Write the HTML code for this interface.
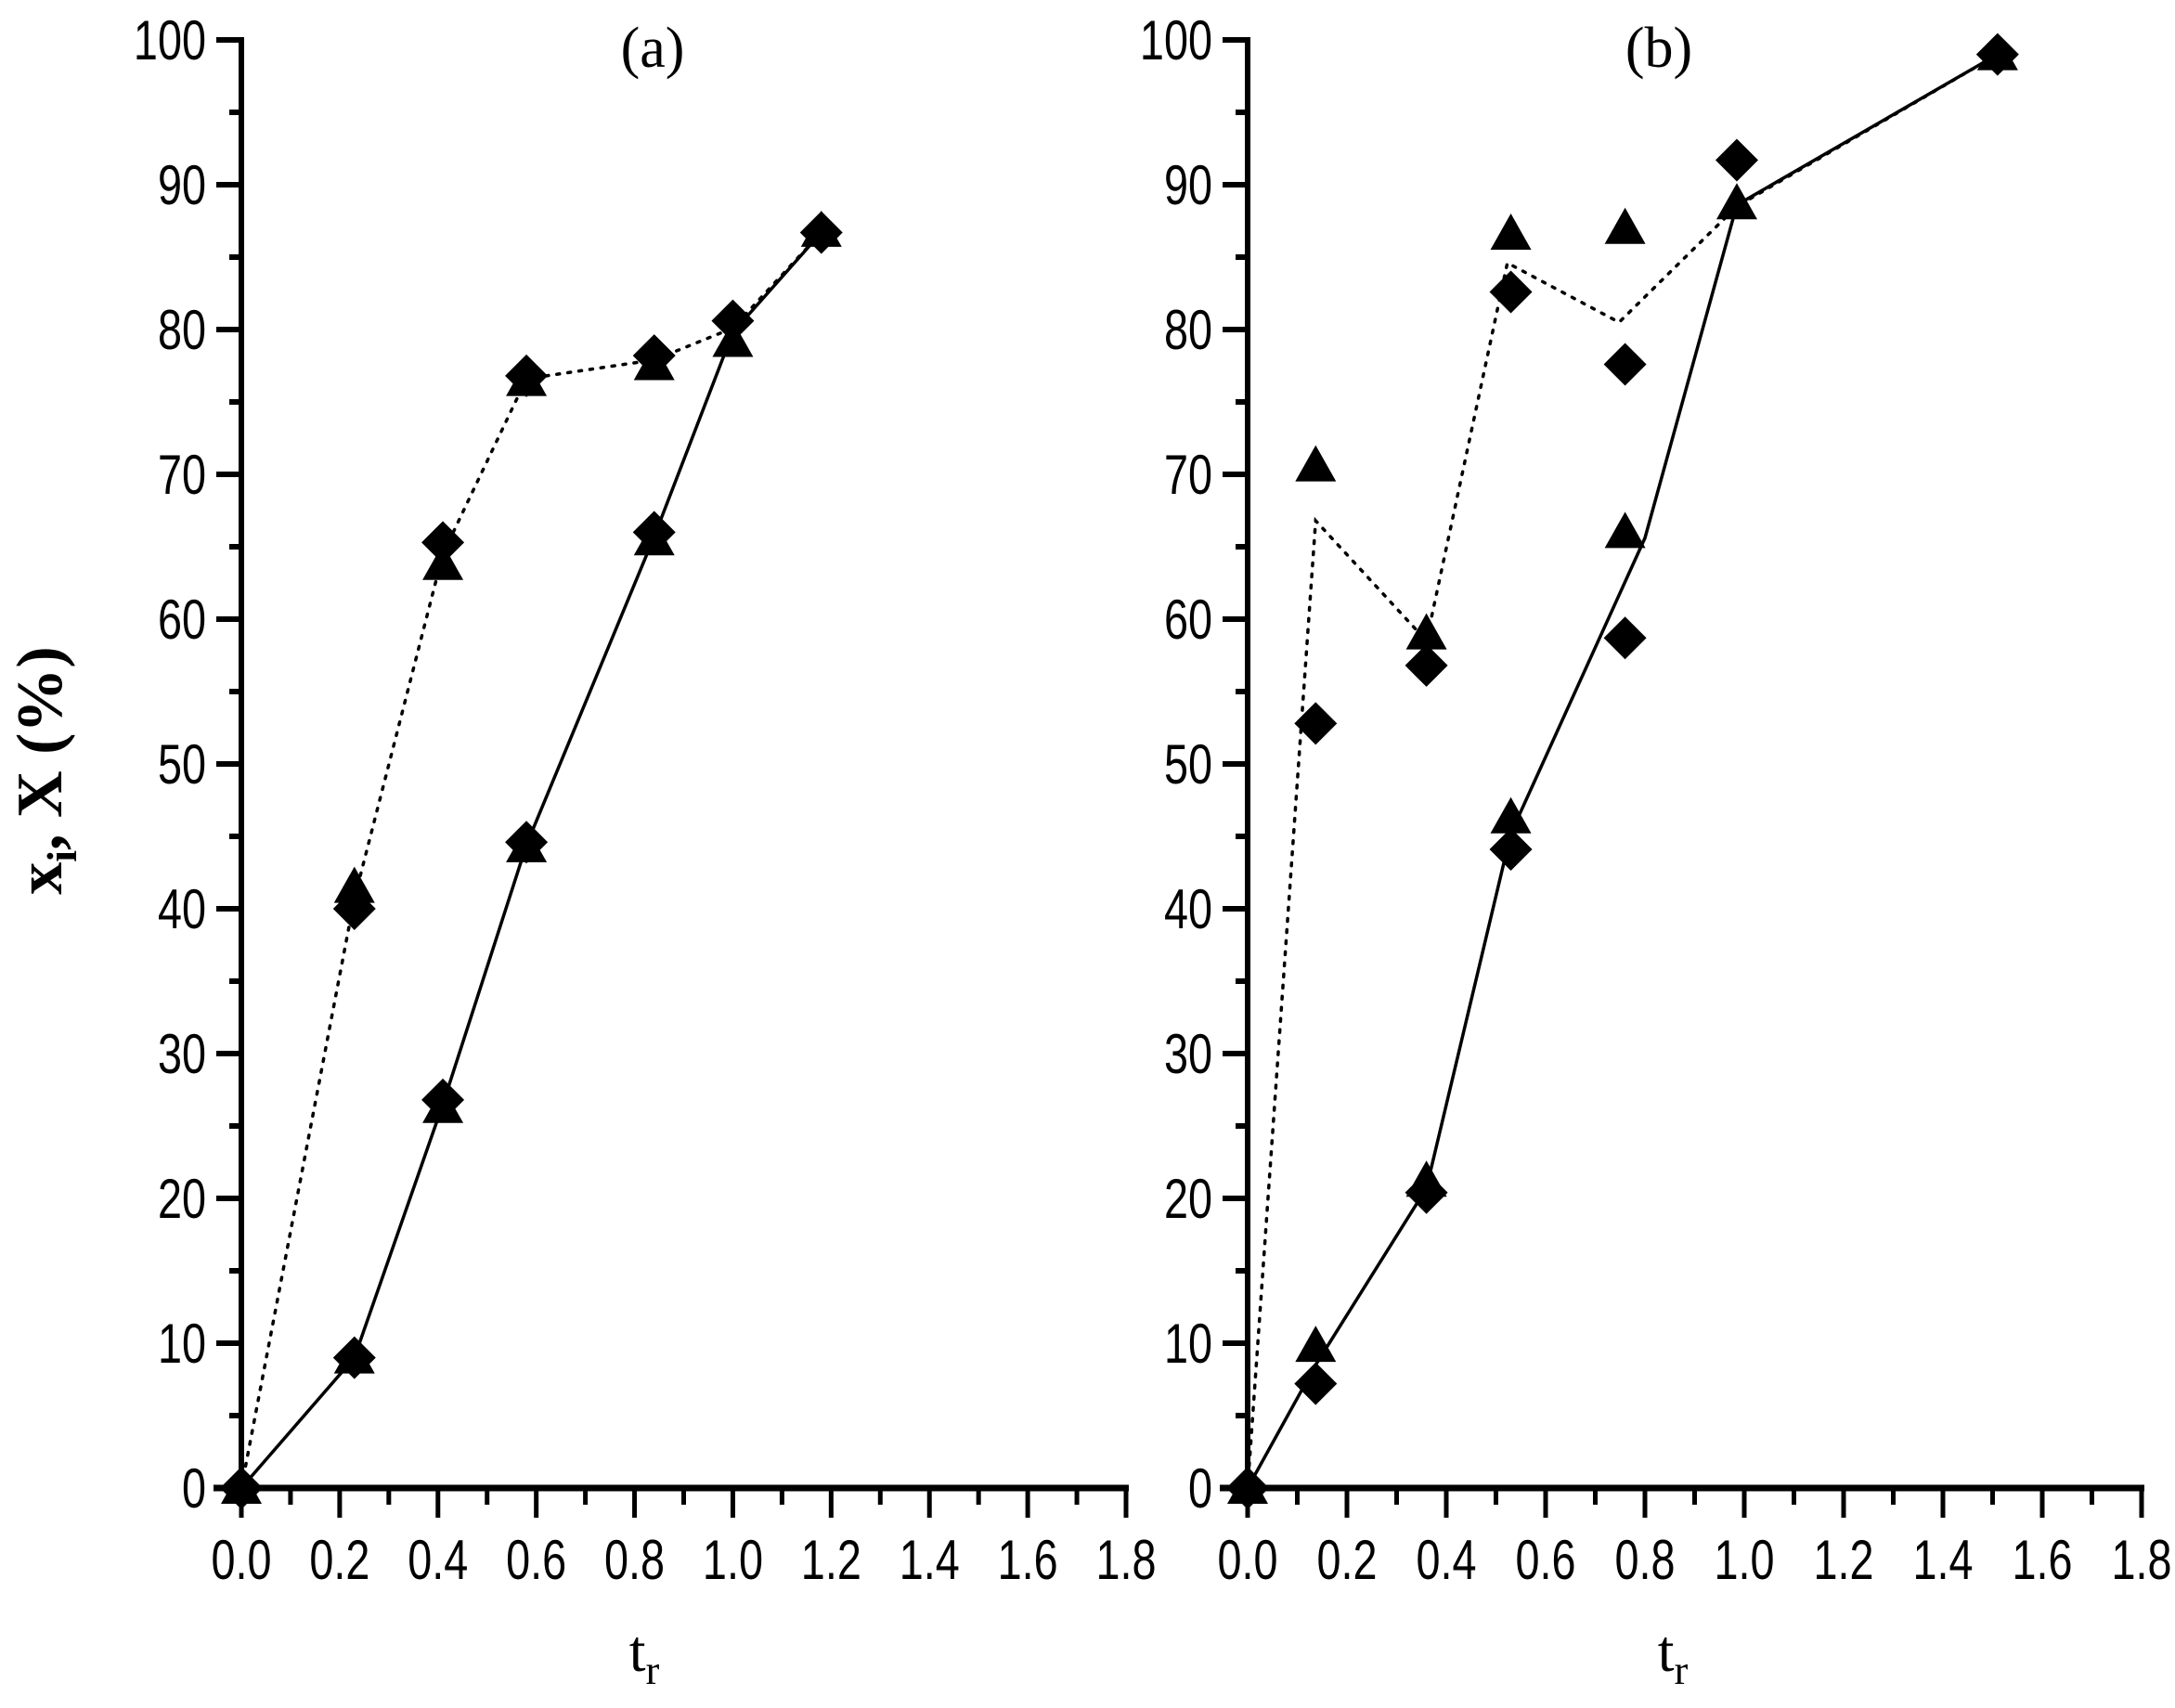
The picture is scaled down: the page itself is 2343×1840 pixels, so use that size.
<!DOCTYPE html>
<html><head><meta charset="utf-8"><style>html,body{margin:0;padding:0;background:#fff}svg{display:block}</style></head>
<body>
<svg width="2343" height="1840" viewBox="0 0 2343 1840" xmlns="http://www.w3.org/2000/svg">
<defs>
<path id="tri" d="M0,-22 L22,17 L-22,17 Z"/>
<path id="dia" d="M0,-23 L23,0 L0,23 L-23,0 Z"/>
</defs>
<script>
const NS="http://www.w3.org/2000/svg";
const svg=document.querySelector('svg');
function el(t,a,txt){const e=document.createElementNS(NS,t);for(const k in a)e.setAttribute(k,a[k]);if(txt!==undefined)e.textContent=txt;svg.appendChild(e);return e;}
const Y=v=>1603-15.6*v;
function panel(x0,x18,lab,title,data){
  const X=t=>x0+(x18-x0)*t/1.8;
  el('line',{x1:x0,y1:Y(100)-3,x2:x0,y2:Y(0)+3,stroke:'#000','stroke-width':6});
  el('line',{x1:x0-30,y1:Y(0),x2:x18+3,y2:Y(0),stroke:'#000','stroke-width':7});
  for(let v=0;v<=100;v+=5){const L=v%10==0?27:13;el('line',{x1:x0-L,y1:Y(v),x2:x0,y2:Y(v),stroke:'#000','stroke-width':6});
    if(v%10==0){el('text',{x:0,y:0,transform:`translate(${x0-38},${Y(v)+21}) scale(0.78,1)`,'text-anchor':'end','font-family':'Liberation Sans, sans-serif','font-size':60},String(v));}}
  for(let i=0;i<=18;i++){const t=i/10;const L=i%2==0?32:18;el('line',{x1:X(t),y1:Y(0),x2:X(t),y2:Y(0)+L,stroke:'#000','stroke-width':5});
    if(i%2==0)el('text',{x:0,y:0,transform:`translate(${X(t)},${Y(0)+98}) scale(0.78,1)`,'text-anchor':'middle','font-family':'Liberation Sans, sans-serif','font-size':60},t.toFixed(1));}
  const tt=el('text',{x:lab,y:1800,'text-anchor':'middle','font-family':'Liberation Serif, serif','font-size':64},'t');
  const s=document.createElementNS(NS,'tspan');s.setAttribute('font-size',44);s.setAttribute('dy',14);s.textContent='r';tt.appendChild(s);
  el('text',{x:title[0],y:72,'text-anchor':'middle','font-family':'Liberation Serif, serif','font-size':62},title[1]);
  const pts=a=>a.map(p=>X(p[0])+','+Y(p[1])).join(' ');
  el('polyline',{points:pts(data.dotLine),fill:'none',stroke:'#000','stroke-width':3.5,'stroke-dasharray':'3,9','stroke-linecap':'round'});
  el('polyline',{points:pts(data.solLine),fill:'none',stroke:'#000','stroke-width':3.5});
  data.tri.forEach(p=>el('use',{href:'#tri',x:X(p[0]),y:Y(p[1])}));
  data.dia.forEach(p=>el('use',{href:'#dia',x:X(p[0]),y:Y(p[1])}));
}
panel(260,1213,694,[703,'(a)'],{
  dotLine:[[0,0],[0.23,40.7],[0.41,64.5],[0.58,76.6],[0.84,77.9],[1.0,80.1],[1.18,86.7]],
  solLine:[[0,0],[0.23,9],[0.41,26.5],[0.58,44.4],[0.84,65.7],[1.0,79.8],[1.18,86.7]],
  tri:[[0,0],[0.23,41.5],[0.41,63.8],[0.58,76.5],[0.84,77.6],[1.0,79.2],[1.18,86.8],[0.23,9],[0.41,26.3],[0.58,44.3],[0.84,65.5]],
  dia:[[0,0],[0.23,40],[0.41,65.3],[0.58,76.8],[0.84,78.2],[1.0,80.6],[1.18,86.7],[0.23,9],[0.41,26.8],[0.58,44.6],[0.84,66]]
});
panel(1344,2307,1802,[1787,'(b)'],{
  dotLine:[[0,0],[0.137,66.8],[0.36,58.5],[0.523,84.6],[0.748,80.5],[0.985,88.5],[1.51,99]],
  solLine:[[0,0],[0.137,8.5],[0.36,20.7],[0.53,45.2],[0.80,65.6],[0.985,88.6],[1.51,99]],
  tri:[[0,0],[0.137,70.6],[0.36,59],[0.53,86.6],[0.76,87],[0.985,88.7],[1.51,99],[0.137,9.8],[0.36,21.2],[0.53,46.3],[0.76,66]],
  dia:[[0,0],[0.137,52.8],[0.36,56.8],[0.53,82.6],[0.76,77.6],[0.985,91.7],[1.51,99],[0.137,7.2],[0.36,20.4],[0.53,44.1],[0.76,58.7]]
});
</script>
<text transform="translate(66,830) rotate(-90)" text-anchor="middle" font-family="Liberation Serif, serif" font-size="70" font-weight="bold">x<tspan font-size="46" dy="16">i</tspan><tspan dy="-16">, X (%)</tspan></text>
</svg>
</body></html>
